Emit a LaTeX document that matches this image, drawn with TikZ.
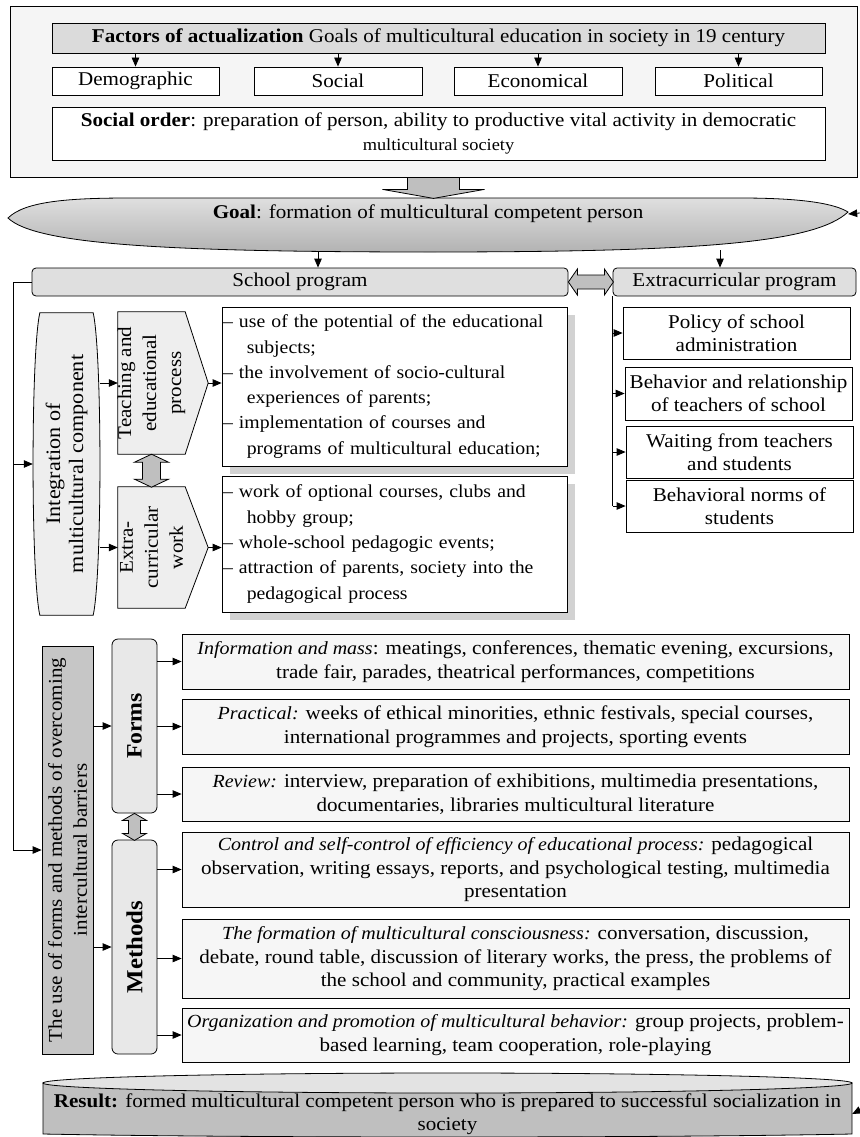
\documentclass[tikz,border=0pt]{standalone}
\usepackage{fontspec}
\setmainfont[FakeStretch=1.08]{Liberation Serif}
\usetikzlibrary{arrows.meta,positioning,calc,shadows}

\newcommand\mainfs{\fontsize{19.5}{23.5}\selectfont}
\newcommand\listfs{\fontsize{18.3}{25.3}\selectfont}
\newcommand\formlabel[1]{{\fontsize{18.5}{23.5}\selectfont\itshape #1}}

\begin{document}
\begin{tikzpicture}[x=1pt,y=-1pt,
    line/.style={line width=0.8pt},
    arr/.style={line,-{Triangle[length=9pt,width=7.5pt]}},
    box/.style={line,draw=black,fill=white,font=\mainfs,align=center,inner sep=2pt},
    listbox/.style={box,align=left,text width=343pt,inner xsep=1pt,font=\listfs,
      drop shadow={shadow xshift=8pt,shadow yshift=-8pt,fill=gray!35,opacity=1}},
    formbox/.style={box,fill=gray!7,minimum width=667pt,minimum height=#1},
    sidebox/.style={box,rounded corners=6pt,fill=gray!18,minimum width=45pt},
    vtext/.style={rotate=90,align=center,font=\mainfs},
    block/.style={line,fill=gray!50}]
  \useasboundingbox (0,0) rectangle (859,1137);

  % Factors block
  \node[box,fill=gray!8,minimum width=847pt,minimum height=171pt] (frame) at (433.5,91.5) {};
  \node[box,fill=gray!28,minimum width=773pt,minimum height=30pt] (factors) at (438.5,38)
    {\textbf{Factors of actualization} Goals of multicultural education in society in 19 century};
  \node[box,minimum width=167pt,minimum height=28pt] (demo) at (135.5,81) {Demographic};
  \node[box,minimum width=168pt,minimum height=28pt] (social) at (338,81) {Social};
  \node[box,minimum width=168pt,minimum height=28pt] (econ) at (538,81) {Economical};
  \node[box,minimum width=167pt,minimum height=28pt] (polit) at (738.5,81) {Political};
  \foreach \f in {demo,social,econ,polit}
    \draw[arr] (factors.south -| \f.north) -- (\f.north);
  \node[box,minimum width=773pt,minimum height=53pt] (order) at (438.5,133.5)
    {\textbf{Social order}: preparation of person, ability to productive vital activity in democratic\\
     {\fontsize{17}{19}\selectfont multicultural society}};

  % Goal
  \draw[line,top color=gray!25,bottom color=gray!60] (8,218)
    .. controls (25,201) and (70,198) .. (130,198) -- (740,198)
    .. controls (805,198) and (835,204) .. (848,212)
    .. controls (815,243) and (700,252) .. (430,252)
    .. controls (160,252) and (35,244) .. (8,218) -- cycle;
  \draw[block] ($(frame.south)+(-26,0)$) -- ++(0,12) -- ++(-25,0) -- ++(51,9)
    -- ++(51,-9) -- ++(-25,0) -- ++(0,-12) -- cycle;
  \node[font=\mainfs,minimum width=840pt,minimum height=40pt] (goal) at (428,214)
    {\textbf{Goal}: formation of multicultural competent person};
  \coordinate (goalin) at (860,213);
  \draw[arr] (goalin) -- (goal.east);

  % Programs
  \node[box,fill=gray!25,rounded corners=4pt,minimum width=536pt,minimum height=28pt] (school) at (300,282) {School program};
  \node[box,fill=gray!25,rounded corners=4pt,minimum width=243pt,minimum height=28pt] (extra) at (734.5,282) {Extracurricular program};
  \coordinate (g1) at (318,251);
  \coordinate (g2) at (720,250);
  \draw[arr] (g1) -- (g1 |- school.north);
  \draw[arr] (g2) -- (g2 |- extra.north);
  \draw[block] (school.east) -- ++(9,-13) -- ++(0,6) -- ++(27,0) -- ++(0,-6) -- ++(9,13)
    -- ++(-9,13) -- ++(0,-6) -- ++(-27,0) -- ++(0,6) -- cycle;

  % Extracurricular program
  \node[box,minimum width=227pt,minimum height=52pt] (policy) at (736.5,333) {Policy of school\\administration};
  \node[box,minimum width=227pt,minimum height=53pt] (relation) at (738.5,393.5) {Behavior and relationship\\of teachers of school};
  \node[box,minimum width=227pt,minimum height=52pt] (waiting) at (739.5,452) {Waiting from teachers\\and students};
  \node[box,minimum width=227pt,minimum height=52pt] (norms) at (739.5,506) {Behavioral norms of\\students};
  \draw[line] (extra.south west) -- (extra.south west |- norms.west);
  \foreach \e in {policy,relation,waiting,norms}
    \draw[arr] (extra.south west |- \e.west) -- (\e.west);

  % Integration of multicultural component
  \node[minimum width=67pt,minimum height=302pt] (integ) at (66.5,464) {};
  \draw[line,fill=gray!13] ($(integ.north west)+(7,0)$) -- ($(integ.north east)+(-7,0)$)
    .. controls ($(integ.east)+(2,-110)$) and ($(integ.east)+(2,110)$) .. ($(integ.south east)+(-7,0)$)
    -- ($(integ.south west)+(7,0)$)
    .. controls ($(integ.west)+(-2,110)$) and ($(integ.west)+(-2,-110)$) .. cycle;
  \node[vtext,font=\fontsize{20.5}{23}\selectfont] (integ-txt) at (integ.center) {Integration of\\multicultural component};

  \node[minimum width=67pt,minimum height=142pt] (teach) at (151.5,383) {};
  \draw[line,fill=gray!13] (teach.north west) -- (teach.north east) -- ($(teach.east)+(23,0)$) coordinate (teachtip)
    -- (teach.south east) -- (teach.south west) -- cycle;
  \node[vtext,font=\fontsize{19.5}{25}\selectfont] (teach-txt) at (teach.center) {Teaching and\\educational\\process};

  \node[minimum width=67pt,minimum height=121pt] (excur) at (151.5,547.5) {};
  \draw[line,fill=gray!13] (excur.north west) -- (excur.north east) -- ($(excur.east)+(23,0)$) coordinate (excurtip)
    -- (excur.south east) -- (excur.south west) -- cycle;
  \node[vtext,font=\fontsize{19.5}{25}\selectfont] (excur-txt) at (excur.center) {Extra-\\curricular\\work};

  \draw[block] (teach.south) -- ++(-17,8) -- ++(8,0) -- ++(0,17) -- ++(-8,0) -- ++(17,8)
    -- ++(17,-8) -- ++(-8,0) -- ++(0,-17) -- ++(8,0) -- cycle;

  \node[listbox,minimum height=159pt] (tasks) at (394.5,386.5)
    {--~use of the potential of the educational\\\hspace*{1.3em}subjects;\\
     --~the involvement of socio-cultural\\\hspace*{1.3em}experiences of parents;\\
     --~implementation of courses and\\\hspace*{1.3em}programs of multicultural education;};
  \node[listbox,minimum height=136pt] (clubs) at (394.5,544)
    {--~work of optional courses, clubs and\\\hspace*{1.3em}hobby group;\\
     --~whole-school pedagogic events;\\
     --~attraction of parents, society into the\\\hspace*{1.3em}pedagogical process};

  \draw[arr] (integ.east |- teach.west) -- (teach.west);
  \draw[arr] (integ.east |- excur.west) -- (excur.west);
  \draw[arr] (teachtip) -- (teachtip -| tasks.west);
  \draw[arr] (excurtip) -- (excurtip -| clubs.west);

  % Forms and methods
  \node[box,fill=gray!45,minimum width=51pt,minimum height=408pt] (useforms) at (67.5,850) {};
  \node[vtext,font=\fontsize{19.5}{25}\selectfont] (useforms-txt) at (useforms.center)
    {The use of forms and methods of overcoming\\intercultural barriers};

  \coordinate (lx) at (13,282);
  \draw[arr] (school.west) -- (lx) |- (useforms.west);
  \draw[arr] (lx |- integ.west) -- (integ.west);

  \node[sidebox,minimum height=174pt] (forms) at (134.5,726) {};
  \node[vtext,font=\fontsize{22}{24}\selectfont\bfseries] (forms-txt) at (forms.center) {Forms};
  \node[sidebox,minimum height=214pt] (methods) at (134.5,947) {};
  \node[vtext,font=\fontsize{23}{24}\selectfont\bfseries] (methods-txt) at (methods.center) {Methods};
  \draw[block] (forms.south) -- ++(-12,7) -- ++(6,0) -- ++(0,13) -- ++(-6,0) -- ++(12,7)
    -- ++(12,-7) -- ++(-6,0) -- ++(0,-13) -- ++(6,0) -- cycle;
  \draw[arr] (useforms.east |- forms.west) -- (forms.west);
  \draw[arr] (useforms.east |- methods.west) -- (methods.west);

  \node[formbox=55pt] (info) at (515.5,661.5)
    {\formlabel{Information and mass}: meatings, conferences, thematic evening, excursions,\\
     trade fair, parades, theatrical performances, competitions};
  \node[formbox=55pt] (practical) at (515.5,726.5)
    {\formlabel{Practical:} weeks of ethical minorities, ethnic festivals, special courses,\\
     international programmes and projects, sporting events};
  \node[formbox=54pt] (review) at (515.5,794)
    {\formlabel{Review:} interview, preparation of exhibitions, multimedia presentations,\\
     documentaries, libraries multicultural literature};
  \node[formbox=75pt] (control) at (515.5,869.5)
    {\formlabel{Control and self-control of efficiency of educational process:} pedagogical\\
     observation, writing essays, reports, and psychological testing, multimedia\\
     presentation};
  \node[formbox=79pt] (consc) at (515.5,958.5)
    {\formlabel{The formation of multicultural consciousness:} conversation, discussion,\\
     debate, round table, discussion of literary works, the press, the problems of\\
     the school and community, practical examples};
  \node[formbox=54pt] (behav) at (515.5,1035)
    {\formlabel{Organization and promotion of multicultural behavior:} group projects, problem-\\
     based learning, team cooperation, role-playing};
  \foreach \c in {info,practical,review}
    \draw[arr] (forms.east |- \c.west) -- (\c.west);
  \foreach \c in {control,consc,behav}
    \draw[arr] (methods.east |- \c.west) -- (\c.west);

  % Result
  \draw[line,fill=gray!50] (43,1083) -- (43,1134) .. controls (250,1138) and (650,1138) .. (852,1134)
    -- (852,1083) -- cycle;
  \draw[line,fill=gray!22] (447.5,1083) ellipse [x radius=404.5pt, y radius=10pt];
  \node[font=\mainfs,align=center,minimum width=809pt,minimum height=44pt] (result) at (447.5,1114)
    {\textbf{Result:} formed multicultural competent person who is prepared to successful socialization in\\society};
  \coordinate (resin) at (860,1110);
  \draw[arr] (resin) -- (result.east);
\end{tikzpicture}
\end{document}
